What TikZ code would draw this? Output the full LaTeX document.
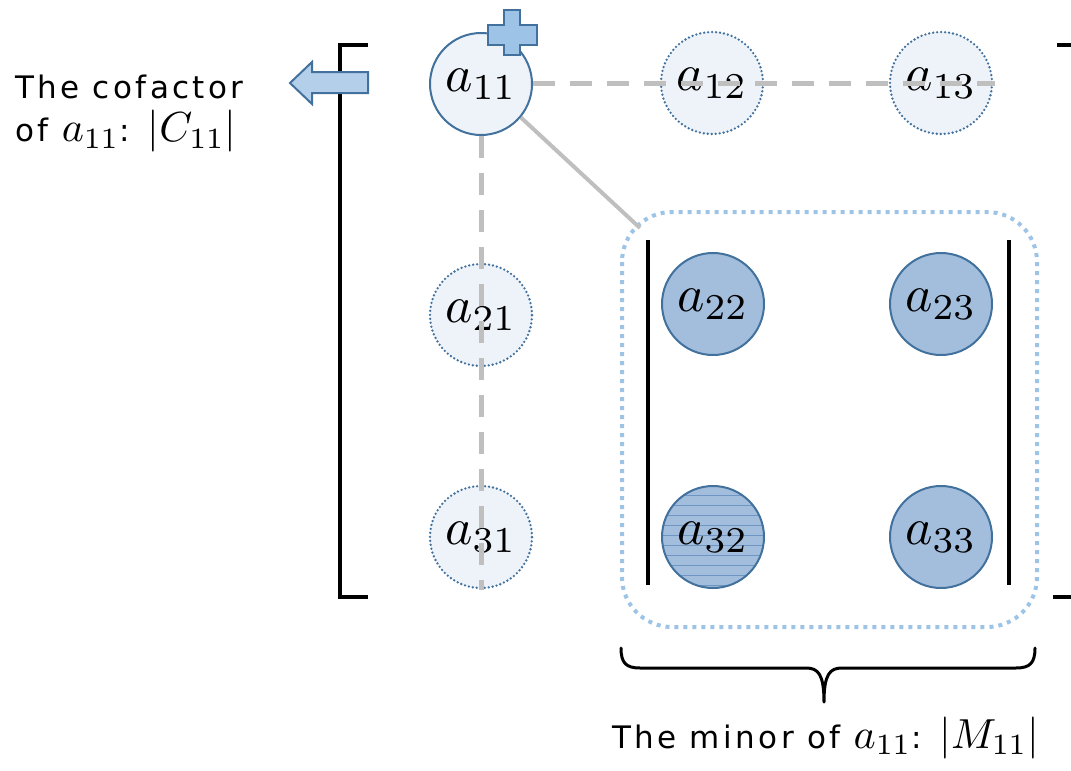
\documentclass[tikz,border=0pt]{standalone}
\usepackage{graphicx}
\usepackage[no-math]{fontspec}
\setmainfont[LetterSpace=11]{DejaVu Sans}
\definecolor{edgeblue}{HTML}{41719C}
\definecolor{lightfill}{HTML}{EEF3FA}
\definecolor{darkfill}{HTML}{A3BEDD}
\definecolor{plusfill}{HTML}{9DC3E6}
\definecolor{arrowfill}{HTML}{B4CFEA}
\definecolor{gline}{HTML}{BFBFBF}
\definecolor{minorbox}{HTML}{9DC3E6}
\definecolor{stripecol}{HTML}{6F95C3}
\newcommand{\elemm}[1]{{\fontsize{10}{12}\selectfont\scalebox{5.2}{$#1$}}}
\newcommand{\txtm}[1]{{\fontsize{10}{12}\selectfont\scalebox{4.2}{$#1$}}}
\begin{document}
\begin{tikzpicture}[x=1pt,y=-1pt,
  elem/.style={circle, minimum size=102pt, inner sep=0pt, draw=edgeblue, line width=2pt},
  faint/.style={elem, fill=lightfill, line cap=round, dash pattern=on 0pt off 4pt, line width=2.6pt},
  strong/.style={elem, fill=darkfill},
  mainelem/.style={elem, fill=lightfill},
  graydash/.style={draw=gline, line width=5pt, dash pattern=on 22pt off 15pt},
  bar/.style={line width=4pt, draw=black},
  stripe/.style={draw=stripecol, line width=1pt},
  label/.style={inner sep=0pt, font=\fontsize{31}{43}\selectfont}
]
\useasboundingbox (0,0) rectangle (1071,771);
\clip (0,0) rectangle (1071,771);

% minor dotted box
\draw[draw=minorbox, line width=4pt, dash pattern=on 4pt off 5pt, rounded corners=50pt] (622,212) rectangle (1037,627);

% brackets
\draw[bar] (368,45) -- (340,45) -- (340,597) -- (368,597);
\draw[bar] (1057,45) -- (1095,45) -- (1095,597) -- (1053,597);
% determinant bars
\draw[bar] (648,240) -- (648,585);
\draw[bar] (1009,240) -- (1009,585);

% elements
\node[mainelem] (a11) at (481,84) {\elemm{a_{11}}};
\node[faint] (a12) at (712,83) {\elemm{a_{12}}};
\node[faint] (a13) at (941,83) {\elemm{a_{13}}};
\node[faint] (a21) at (481,315) {\elemm{a_{21}}};
\node[faint] (a31) at (481,537) {\elemm{a_{31}}};
\node[strong] (a22) at (713,304) {\elemm{a_{22}}};
\node[strong] (a23) at (941,304) {\elemm{a_{23}}};
\node[strong, path picture={\foreach \k in {-48,-38,...,48}{\draw[stripe] ([yshift=\k pt]path picture bounding box.west) -- ([yshift=\k pt]path picture bounding box.east);}}] (a32) at (713,537) {\elemm{a_{32}}};
\node[strong] (a33) at (941,537) {\elemm{a_{33}}};

% crossing-out lines
\coordinate (hend) at (995,83);
\coordinate (vend) at (481,590);
\draw[graydash] (a11.east |- a12.center) -- (hend);
\draw[graydash] (a11.south) -- (vend);
\coordinate (corner) at (640,228);
\draw[draw=gline, line width=4pt] (a11.-40) -- (corner);

% plus sign
\draw[fill=plusfill, draw=edgeblue, line width=2pt, line join=miter]
  (504,10) -- (520,10) -- (520,25) -- (537,25) -- (537,45) -- (520,45) -- (520,55)
  -- (504,55) -- (504,45) -- (488,45) -- (488,25) -- (504,25) -- cycle;

% block arrow
\draw[fill=arrowfill, draw=edgeblue, line width=2pt, line join=miter]
  (290,83) -- (312,62) -- (312,72) -- (368,72) -- (368,93) -- (312,93) -- (312,104) -- cycle;

% cofactor label
\node[label, align=left, anchor=north west] (cof) at (15,75) {The cofactor\\of \txtm{a_{11}}: \txtm{|C_{11}|}};

% brace and minor label
\coordinate (bl) at (621,648);
\coordinate (br) at (1035,648);
\coordinate (btip) at (824,702);
\draw[line width=3pt, line cap=round, line join=round]
  (bl) .. controls (621,663) and (626,668) .. (640,668) -- (806,668)
  .. controls (818,668) and (824,674) .. (btip)
  .. controls (824,674) and (830,668) .. (842,668) -- (1016,668)
  .. controls (1030,668) and (1035,663) .. (br);
\node[label, anchor=base west] (minor) at (612,748) {The minor of \txtm{a_{11}}: \txtm{|M_{11}|}};
\end{tikzpicture}
\end{document}
